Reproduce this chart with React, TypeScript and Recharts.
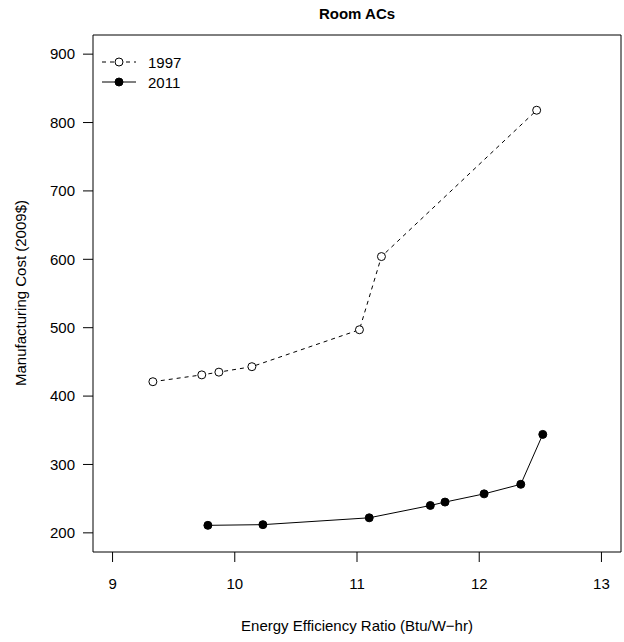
import React from "react";
import { LineChart, Line, XAxis, YAxis, ReferenceArea } from "recharts";

// values
const eer1997 = [9.33, 9.73, 9.87, 10.14, 11.02, 11.2, 12.47];
const cost1997 = [421, 431, 435, 443, 497, 604, 818];
const eer2011 = [9.78, 10.23, 11.1, 11.6, 11.72, 12.04, 12.34, 12.52];
const cost2011 = [211, 212, 222, 240, 245, 257, 271, 344];
const xTicks = [9, 10, 11, 12, 13];
const yTicks = [200, 300, 400, 500, 600, 700, 800, 900];

const data1997 = eer1997.map((eer, i) => ({ eer, cost: cost1997[i] }));
const data2011 = eer2011.map((eer, i) => ({ eer, cost: cost2011[i] }));

const FONT = "'Liberation Sans', Arial, sans-serif";
// R pads the axis range by 4% on each side
const X_DOMAIN: [number, number] = [8.84, 13.16];
const Y_DOMAIN: [number, number] = [172, 928];

function LegendBox(): JSX.Element {
  const row = (label: string, dashed: boolean, filled: boolean, top: number) => (
    <div style={{ position: "absolute", left: 100, top, display: "flex", alignItems: "center", height: 18 }}>
      <svg width={40} height={18}>
        <line x1={2} x2={36} y1={9} y2={9} stroke="#000" strokeWidth={1} strokeDasharray={dashed ? "4 4" : undefined} />
        <circle cx={19} cy={9} r={4} fill={filled ? "#000" : "#fff"} stroke="#000" strokeWidth={1} />
      </svg>
      <span style={{ marginLeft: 8, fontSize: 15, fontFamily: FONT }}>{label}</span>
    </div>
  );
  return (
    <>
      {row("1997", true, false, 53)}
      {row("2011", false, true, 73)}
    </>
  );
}

export default function App(): JSX.Element {
  return (
    <div style={{ position: "absolute", left: 0, top: 0, width: 624, height: 642, background: "#fff", fontFamily: FONT }}>
      <LineChart width={624} height={642} margin={{ top: 35, right: 3, bottom: 0, left: 0 }}>
        <XAxis
          type="number"
          dataKey="eer"
          domain={X_DOMAIN}
          ticks={xTicks}
          allowDataOverflow
          height={90}
          axisLine={false}
          tickSize={10}
          tickMargin={16}
          tickLine={{ stroke: "#000" }}
          tick={{ fill: "#000", fontSize: 15, fontFamily: FONT }}
        />
        <YAxis
          type="number"
          dataKey="cost"
          domain={Y_DOMAIN}
          ticks={yTicks}
          allowDataOverflow
          width={93}
          axisLine={false}
          tickSize={10}
          tickMargin={8}
          tickLine={{ stroke: "#000" }}
          tick={{ fill: "#000", fontSize: 15, fontFamily: FONT }}
        />
        <ReferenceArea x1={X_DOMAIN[0]} x2={X_DOMAIN[1]} y1={Y_DOMAIN[0]} y2={Y_DOMAIN[1]} fill="none" stroke="#000" strokeWidth={1} fillOpacity={0} />
        <Line
          data={data1997}
          dataKey="cost"
          type="linear"
          stroke="#000"
          strokeWidth={1}
          strokeDasharray="4 4"
          dot={{ r: 4, fill: "#fff", stroke: "#000", strokeWidth: 1, strokeDasharray: "" }}
          activeDot={false}
          isAnimationActive={false}
        />
        <Line
          data={data2011}
          dataKey="cost"
          type="linear"
          stroke="#000"
          strokeWidth={1}
          dot={{ r: 4, fill: "#000", stroke: "#000", strokeWidth: 1 }}
          activeDot={false}
          isAnimationActive={false}
        />
      </LineChart>
      <LegendBox />
      <div style={{ position: "absolute", left: 93, width: 528, top: 5, textAlign: "center", fontWeight: "bold", fontSize: 15 }}>
        Room ACs
      </div>
      <div style={{ position: "absolute", left: 93, width: 528, top: 617, textAlign: "center", fontSize: 15 }}>
        Energy Efficiency Ratio (Btu/W−hr)
      </div>
      <div
        style={{
          position: "absolute",
          left: 20,
          top: 293,
          fontSize: 15,
          whiteSpace: "nowrap",
          transform: "translate(-50%, -50%) rotate(-90deg)",
        }}
      >
        Manufacturing Cost (2009$)
      </div>
    </div>
  );
}
